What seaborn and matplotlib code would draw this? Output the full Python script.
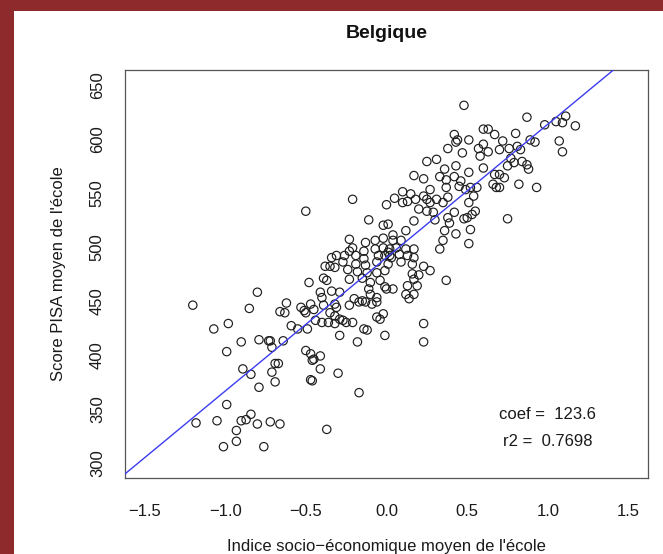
import matplotlib
matplotlib.use("Agg")
import matplotlib.pyplot as plt
from matplotlib.patches import Rectangle
import seaborn as sns
import pandas as pd

# --- DATA ---
ses_index = [
    -1.20, -0.80, -0.85, -0.66, -0.98, -1.07, -0.90, -0.79, -0.73, -0.72,
    -0.71, -0.99, -0.69, -0.67, -0.89, -0.84, -0.71, -0.69, -0.79, -0.99,
    -1.18, -1.05, -0.90, -0.87, -0.84, -0.80, -0.72, -0.66, -0.93, -0.93,
    -1.01, -0.76,
    0.25, 0.31, 0.17, 0.23, 0.27, 0.10, 0.15, 0.05, 0.10, 0.13,
    0.18, 0.23, 0.25, 0.27, 0.31, 0.20, 0.25, 0.29, 0.30, -0.21,
    0.00, -0.11, -0.02, 0.01, 0.17, 0.12,
    -0.23, -0.13, -0.07, -0.02, 0.04, 0.04, 0.09, -0.21, -0.23, -0.14,
    -0.07, -0.02, 0.02, 0.06, 0.12, 0.17,
    -0.31, -0.26, -0.34, -0.19, -0.14, -0.05, -0.01, 0.02, 0.08, 0.13, 0.17,
    -0.27, -0.19, -0.13, -0.06, 0.01, 0.09, 0.16, 0.23, 0.27,
    -0.32, -0.24, -0.18, -0.12, -0.06, -0.01, 0.16, 0.20,
    0.03, 0.01,
    -0.50, -0.38, -0.35, -0.39, -0.37, -0.48, -0.41, -0.40, -0.62, -0.63,
    -0.53, -0.51, -0.50, -0.47, -0.45, -0.39, -0.59, -0.55, -0.49, -0.44,
    -0.40, -0.36, -0.64, -0.50, -0.47, -0.45, -0.41, -0.46, -0.41, -0.47,
    -0.46,
    -0.34, -0.29, -0.32, -0.35, -0.31, -0.23, -0.15, -0.10, -0.04, -0.20,
    -0.15, -0.11, -0.10, -0.06, -0.01, 0.00, 0.04, 0.13, 0.17, 0.19,
    0.12, 0.14, 0.17,
    -0.23, -0.17, -0.13, -0.09, -0.06, -0.32, -0.32, -0.29, -0.27, -0.25,
    -0.21, -0.29, -0.18, -0.14, -0.12, -0.06, -0.04, -0.01, -0.02, 0.23,
    0.23, -0.30, -0.17,
    -0.37,
    0.48, 0.87, 0.98, 1.05, 1.09, 1.11, 1.17, 1.07, 1.09, 0.89,
    0.92, 0.80, 0.72, 0.67, 0.60, 0.63, 0.51, 0.42, 0.44, 0.43,
    0.38, 0.47, 0.57, 0.60, 0.63, 0.58, 0.70, 0.76, 0.81, 0.83,
    0.77, 0.75, 0.79, 0.84, 0.87, 0.88, 0.60, 0.51, 0.43, 0.36,
    0.33, 0.37, 0.42, 0.46, 0.45, 0.49, 0.52, 0.56, 0.54, 0.67,
    0.70, 0.73, 0.66, 0.68, 0.70, 0.82, 0.93, 0.75,
    0.37, 0.38, 0.35, 0.51, 0.42, 0.50, 0.53, 0.55, 0.38, 0.39,
    0.48, 0.52, 0.43, 0.36, 0.35, 0.33, 0.51, 0.37,
]

pisa_score = [
    446, 458, 443, 440, 429, 424, 412, 414, 413, 413,
    407, 403, 392, 392, 387, 382, 384, 375, 370, 354,
    337, 339, 339, 340, 345, 336, 338, 336, 330, 320,
    315, 315,
    579, 581, 566, 563, 553, 551, 549, 545, 541, 542,
    544, 547, 544, 541, 544, 535, 533, 532, 525, 544,
    539, 525, 520, 521, 524, 515,
    507, 504, 506, 508, 511, 506, 506, 499, 496, 496,
    498, 499, 498, 499, 498, 498,
    492, 492, 490, 492, 489, 492, 492, 492, 493, 492, 490,
    486, 484, 483, 486, 484, 486, 484, 482, 478,
    481, 479, 477, 476, 476, 478, 475, 474,
    490, 495,
    533, 482, 482, 471, 469, 467, 458, 453, 448, 439,
    444, 441, 439, 447, 442, 446, 427, 424, 424, 432,
    430, 430, 413, 404, 401, 396, 399, 395, 387, 377,
    376,
    459, 458, 447, 439, 444, 470, 471, 467, 469, 452,
    450, 461, 456, 453, 463, 461, 461, 464, 470, 464,
    456, 452, 456,
    446, 449, 449, 447, 449, 436, 429, 433, 432, 430,
    430, 418, 412, 424, 423, 435, 433, 418, 438, 429,
    412, 383, 365,
    331,
    631, 620, 613, 616, 615, 621, 612, 598, 588, 599,
    597, 605, 598, 604, 609, 609, 599, 604, 599, 597,
    591, 587, 591, 595, 588, 584, 590, 591, 593, 590,
    582, 575, 578, 579, 576, 572, 573, 569, 575, 572,
    565, 562, 565, 561, 556, 553, 555, 555, 547, 567,
    567, 564, 558, 555, 555, 558, 555, 526,
    555, 546, 541, 541, 532, 527, 530, 533, 527, 522,
    526, 516, 512, 515, 506, 498, 503, 469,
]

COEF = 123.6
INTERCEPT = 490.0
R2 = 0.7698

x_ticks = [-1.5, -1.0, -0.5, 0.0, 0.5, 1.0, 1.5]
y_ticks = [300, 350, 400, 450, 500, 550, 600, 650]

df = pd.DataFrame({"ses": ses_index, "score": pisa_score})

sns.set_style("white")
plt.rcParams["font.family"] = ["Liberation Sans", "DejaVu Sans"]

fig = plt.figure(figsize=(6.63, 5.54), dpi=100)
fig.patch.set_facecolor("#8e2a2b")
# white slide panel over the red background
fig.patches.append(Rectangle((14 / 663, 0), 1, 1 - 11 / 554, transform=fig.transFigure,
                             facecolor="white", edgecolor="none", zorder=-10))

ax = fig.add_axes([125 / 663, 1 - 478 / 554, 523 / 663, 408.3 / 554])
ax.set_zorder(5)
ax.set_facecolor("white")

sns.scatterplot(data=df, x="ses", y="score", ax=ax, marker="o", s=36,
                facecolor="none", edgecolor="#1e1e1e", linewidth=0.85, zorder=3)
ax.axline((0, INTERCEPT), slope=COEF, color="#3c3cf0", lw=1.0, zorder=4)

ax.set_xlim(-1.62, 1.62)
ax.set_ylim(286, 664)
ax.set_xticks(x_ticks)
ax.set_xticklabels([f"{t:.1f}".replace("-", "\u2212") for t in x_ticks])
ax.set_yticks(y_ticks)
ax.set_yticklabels([str(t) for t in y_ticks], rotation=90, va="center")

ax.tick_params(axis="both", direction="out", length=7.5, width=0.8, color="#444444",
               labelsize=12, labelcolor="#1a1a1a")
ax.tick_params(axis="x", pad=11)
ax.tick_params(axis="y", pad=7)
for sp in ax.spines.values():
    sp.set_color("#555555")
    sp.set_linewidth(0.9)

ax.set_xlabel("Indice socio\u2212économique moyen de l'école", fontsize=12, color="#1a1a1a")
ax.set_ylabel("Score PISA moyen de l'école", fontsize=12, color="#1a1a1a")
ax.xaxis.set_label_coords(0.5, (478 - 546) / 408.3)
ax.xaxis.label.set_verticalalignment("center")
ax.yaxis.set_label_coords((58 - 125) / 523, 0.5)
ax.yaxis.label.set_verticalalignment("center")

fig.text(386.5 / 663, 1 - 33 / 554, "Belgique", ha="center", va="center",
         fontsize=14, fontweight="bold", color="#111111", zorder=6)

ax.text(1.0, 345, f"coef =  {COEF}", ha="center", va="center", fontsize=12, color="#1a1a1a")
ax.text(1.0, 320, f"r2 =  {R2}", ha="center", va="center", fontsize=12, color="#1a1a1a")

ax.grid(False)
fig.savefig("out.png", dpi=100, facecolor=fig.get_facecolor())
